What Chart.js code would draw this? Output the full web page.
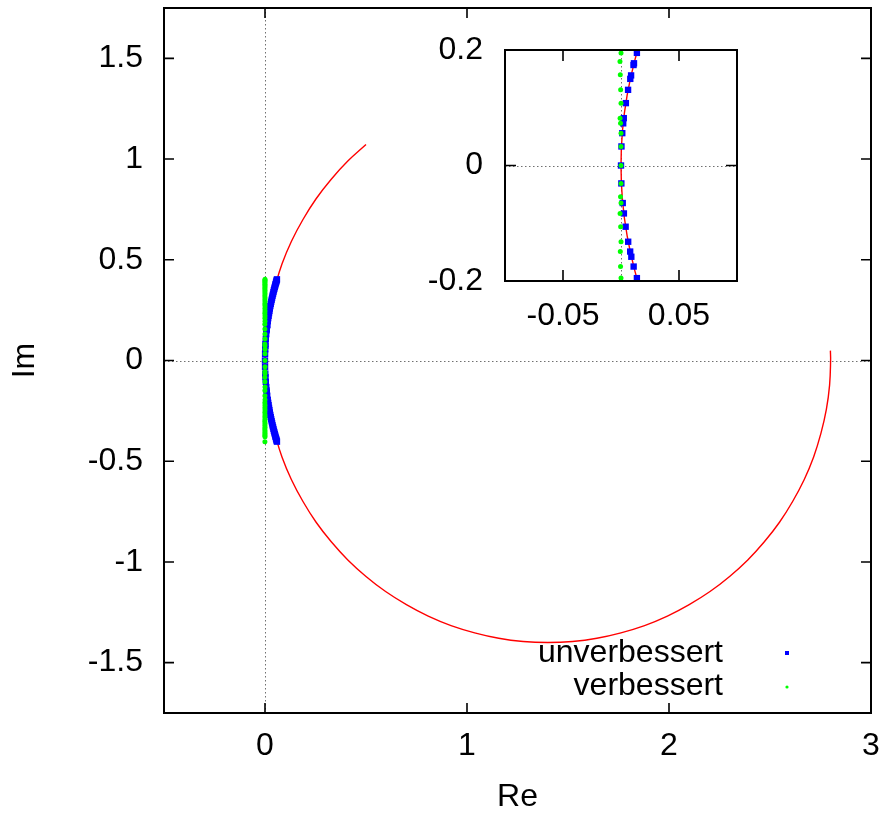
<!DOCTYPE html>
<html>
<head>
<meta charset="utf-8">
<title>Re / Im</title>
<script src="https://cdn.jsdelivr.net/npm/chart.js@4.4.0/dist/chart.umd.min.js"></script>
<style>
  body { margin: 0; background: #fff; }
  #wrap { position: relative; width: 887px; height: 815px; }
  #main { position: absolute; left: 0; top: 0; }
  #inset { position: absolute; left: 400px; top: 30px; }
</style>
</head>
<body>
<div id="wrap">
  <canvas id="main" width="887" height="815"></canvas>
  <canvas id="inset" width="350" height="330"></canvas>
</div>
<script>
// red curve
const redRe = [0.500, 0.410, 0.328, 0.253, 0.188, 0.131, 0.084, 0.048, 0.0332, 0.0213, 0.0120, 0.0053, 0.0013, 0,
  0.0013, 0.0053, 0.0120, 0.0213, 0.0332, 0.048, 0.084, 0.131, 0.188, 0.253, 0.328, 0.410, 0.500,
  0.597, 0.700, 0.808, 0.921, 1.038, 1.157, 1.278, 1.400, 1.522, 1.643, 1.762, 1.879, 1.992,
  2.100, 2.203, 2.300, 2.390, 2.472, 2.547, 2.612, 2.669, 2.716, 2.752, 2.779, 2.795, 2.800, 2.799];
const redIm = [1.072, 0.990, 0.900, 0.803, 0.700, 0.592, 0.479, 0.362, 0.303, 0.243, 0.183, 0.122, 0.061, 0,
  -0.061, -0.122, -0.183, -0.243, -0.303, -0.362, -0.479, -0.592, -0.700, -0.803, -0.900, -0.990, -1.072,
  -1.147, -1.212, -1.269, -1.316, -1.352, -1.379, -1.395, -1.400, -1.395, -1.379, -1.352, -1.316, -1.269,
  -1.212, -1.147, -1.072, -0.990, -0.900, -0.803, -0.700, -0.592, -0.479, -0.362, -0.243, -0.122, 0, 0.049];

// unverbessert (blue squares)
const blueRe = [0.0592, 0.0577, 0.0560, 0.0542, 0.0522, 0.0503, 0.0484, 0.0463, 0.0442, 0.0419, 0.0397, 0.0375,
  0.0352, 0.0330, 0.0308, 0.0285, 0.0263, 0.0240, 0.0218, 0.0199, 0.0177, 0.0158, 0.0137, 0.0112, 0.0108,
  0.0087, 0.0080, 0.0061, 0.0042, 0.0024, 0.0019, 0.0011, 0.0004, 0,
  0.0003, 0.0015, 0.0025, 0.0040, 0.0062, 0.0079, 0.0089, 0.0109, 0.0137, 0.0158, 0.0177, 0.0199, 0.0218,
  0.0240, 0.0263, 0.0285, 0.0308, 0.0330, 0.0352, 0.0375, 0.0397, 0.0419, 0.0442, 0.0463, 0.0484, 0.0503,
  0.0522, 0.0542, 0.0560, 0.0577, 0.0592];
const blueIm = [0.403, 0.398, 0.392, 0.386, 0.379, 0.372, 0.365, 0.357, 0.349, 0.340, 0.331, 0.322,
  0.312, 0.302, 0.292, 0.281, 0.270, 0.258, 0.246, 0.235, 0.222, 0.210, 0.195, 0.177, 0.174,
  0.156, 0.150, 0.131, 0.108, 0.082, 0.073, 0.056, 0.033, 0,
  -0.031, -0.065, -0.083, -0.106, -0.132, -0.149, -0.158, -0.175, -0.195, -0.210, -0.222, -0.235, -0.246,
  -0.258, -0.270, -0.281, -0.292, -0.302, -0.312, -0.322, -0.331, -0.340, -0.349, -0.357, -0.365, -0.372,
  -0.379, -0.386, -0.392, -0.398, -0.403];

// verbessert (green dots)
const greenRe = [0, -0.0005, 0, -0.0008, 0, -0.0005, 0, -0.0008, 0, -0.0005, 0, -0.0008,
  0, -0.0005, 0, -0.0008, 0, -0.0005, 0, -0.0008, 0, -0.0005, 0, -0.0009, -0.0006,
  -0.0003, 0, -0.0008, -0.0004, 0, 0, 0,
  0, -0.0004, 0, -0.0008, -0.0003, 0, -0.0006, -0.0004, 0, -0.0008, 0, -0.0005, 0,
  -0.0008, 0, -0.0005, 0, -0.0008, 0, -0.0005, 0, -0.0008, 0, -0.0005, 0, -0.0008, 0, -0.0005];
const greenIm = [0.403, 0.398, 0.392, 0.386, 0.379, 0.372, 0.365, 0.357, 0.349, 0.340, 0.331, 0.322,
  0.312, 0.302, 0.292, 0.281, 0.270, 0.258, 0.246, 0.235, 0.222, 0.210, 0.195, 0.180, 0.157,
  0.131, 0.108, 0.082, 0.073, 0.056, 0.033, 0,
  -0.031, -0.054, -0.065, -0.083, -0.106, -0.132, -0.149, -0.175, -0.195, -0.210, -0.222, -0.235, -0.246,
  -0.258, -0.270, -0.281, -0.292, -0.302, -0.312, -0.322, -0.331, -0.340, -0.349, -0.357, -0.365, -0.372,
  -0.379, -0.403];

// ticks
const mainXTicks = [0, 1, 2, 3];
const mainYTicks = [-1.5, -1, -0.5, 0, 0.5, 1, 1.5];
const insetXTicks = [-0.05, 0.05];
const insetYTicks = [-0.2, 0, 0.2];
const keyLabels = ['unverbessert', 'verbessert'];

const family = '"Liberation Sans", Arial, Helvetica, sans-serif';
const tickFont = { family: family, size: 32 };

function pts(xs, ys) {
  return xs.map((x, i) => ({ x: x, y: ys[i] }));
}

function makeDatasets() {
  return [
    { label: keyLabels[1], data: pts(greenRe, greenIm), order: 0, showLine: false,
      pointStyle: 'circle', pointRadius: 2.5, pointBorderWidth: 0,
      pointBackgroundColor: '#00ff00', backgroundColor: '#00ff00', clip: 0 },
    { label: keyLabels[0], data: pts(blueRe, blueIm), order: 1, showLine: false,
      pointStyle: 'rect', pointRadius: 4.5, pointBorderWidth: 0,
      pointBackgroundColor: '#0000ff', backgroundColor: '#0000ff', clip: 0 },
    { label: '', data: pts(redRe, redIm), order: 2, showLine: true, tension: 0.4,
      borderColor: '#ff0000', borderWidth: 1.4, pointRadius: 0, clip: 0 }
  ];
}

// frame with inward ticks on all four sides + dotted zero axes
function framePlugin(xTicks, yTicks, tickLen) {
  return {
    id: 'frame',
    beforeDatasetsDraw(chart) {
      const { ctx, chartArea: a, scales: { x, y } } = chart;
      ctx.save();
      ctx.fillStyle = '#fff';
      ctx.fillRect(a.left, a.top, a.right - a.left, a.bottom - a.top);
      ctx.strokeStyle = '#707070';
      ctx.lineWidth = 1;
      ctx.setLineDash([1.5, 2.5]);
      const x0 = Math.round(x.getPixelForValue(0)) + 0.5;
      const y0 = Math.round(y.getPixelForValue(0)) + 0.5;
      ctx.beginPath();
      ctx.moveTo(x0, a.top); ctx.lineTo(x0, a.bottom);
      ctx.moveTo(a.left, y0); ctx.lineTo(a.right, y0);
      ctx.stroke();
      ctx.restore();
    },
    afterDatasetsDraw(chart) {
      const { ctx, chartArea: a, scales: { x, y } } = chart;
      ctx.save();
      ctx.strokeStyle = '#000';
      ctx.lineWidth = 1.6;
      ctx.beginPath();
      xTicks.forEach(v => {
        const px = x.getPixelForValue(v);
        ctx.moveTo(px, a.bottom); ctx.lineTo(px, a.bottom - tickLen);
        ctx.moveTo(px, a.top); ctx.lineTo(px, a.top + tickLen);
      });
      yTicks.forEach(v => {
        const py = y.getPixelForValue(v);
        ctx.moveTo(a.left, py); ctx.lineTo(a.left + tickLen, py);
        ctx.moveTo(a.right, py); ctx.lineTo(a.right - tickLen, py);
      });
      ctx.stroke();
      ctx.lineWidth = 2;
      ctx.strokeRect(a.left, a.top, a.right - a.left, a.bottom - a.top);
      ctx.restore();
    }
  };
}

// key in the lower right corner, text right aligned, sample to the right
const keyPlugin = {
  id: 'key',
  afterDraw(chart) {
    const { ctx, chartArea: a } = chart;
    ctx.save();
    ctx.font = '32px ' + family;
    ctx.textAlign = 'right';
    ctx.textBaseline = 'middle';
    keyLabels.forEach((lab, i) => {
      const ds = chart.data.datasets.find(d => d.label === lab);
      const ty = a.bottom - 60 + i * 33;
      ctx.fillStyle = '#000';
      ctx.fillText(lab, a.right - 148, ty);
      ctx.fillStyle = ds.pointBackgroundColor;
      if (ds.pointStyle === 'rect') {
        ctx.fillRect(a.right - 86, ty - 2, 4, 4);
      } else {
        ctx.beginPath();
        ctx.arc(a.right - 84, ty + 1, 1.6, 0, Math.PI * 2);
        ctx.fill();
      }
    });
    ctx.restore();
  }
};

function axis(min, max, ticks, pad, fitFn, title, titlePad) {
  return {
    type: 'linear', min: min, max: max,
    afterBuildTicks: s => { s.ticks = ticks.map(v => ({ value: v })); },
    afterFit: s => {
      fitFn(s);
      s.paddingTop = 0; s.paddingBottom = 0; s.paddingLeft = 0; s.paddingRight = 0;
    },
    grid: { display: false, drawTicks: false },
    border: { display: false },
    ticks: { padding: pad, color: '#000', font: tickFont, maxRotation: 0, minRotation: 0,
      autoSkip: false, callback: v => String(v) },
    title: { display: !!title, text: title || '', color: '#000',
      font: { family: family, size: 32, lineHeight: 1.1 }, padding: titlePad || 0 }
  };
}

const common = {
  responsive: false,
  devicePixelRatio: 1,
  animation: false,
  plugins: { legend: { display: false }, tooltip: { enabled: false } }
};

new Chart(document.getElementById('main'), {
  type: 'scatter',
  data: { datasets: makeDatasets() },
  options: Object.assign({}, common, {
    layout: { padding: { left: 0, top: 8, right: 16, bottom: 0 } },
    scales: {
      x: axis(-0.5, 3, mainXTicks, 14, s => { s.height = 102; }, 'Re', { top: 0, bottom: 0 }),
      y: axis(-1.75, 1.75, mainYTicks, 21, s => { s.width = 164; }, 'Im', { top: 8, bottom: 0 })
    }
  }),
  plugins: [framePlugin(mainXTicks, mainYTicks, 10), keyPlugin]
});

new Chart(document.getElementById('inset'), {
  type: 'scatter',
  data: { datasets: makeDatasets() },
  options: Object.assign({}, common, {
    layout: { padding: { left: 0, top: 20, right: 13, bottom: 0 } },
    scales: {
      x: axis(-0.1, 0.1, insetXTicks, 16, s => { s.height = 79; }),
      y: axis(-0.2, 0.2, insetYTicks, 22, s => { s.width = 105; })
    }
  }),
  plugins: [framePlugin(insetXTicks, insetYTicks, 11)]
});
</script>
</body>
</html>
